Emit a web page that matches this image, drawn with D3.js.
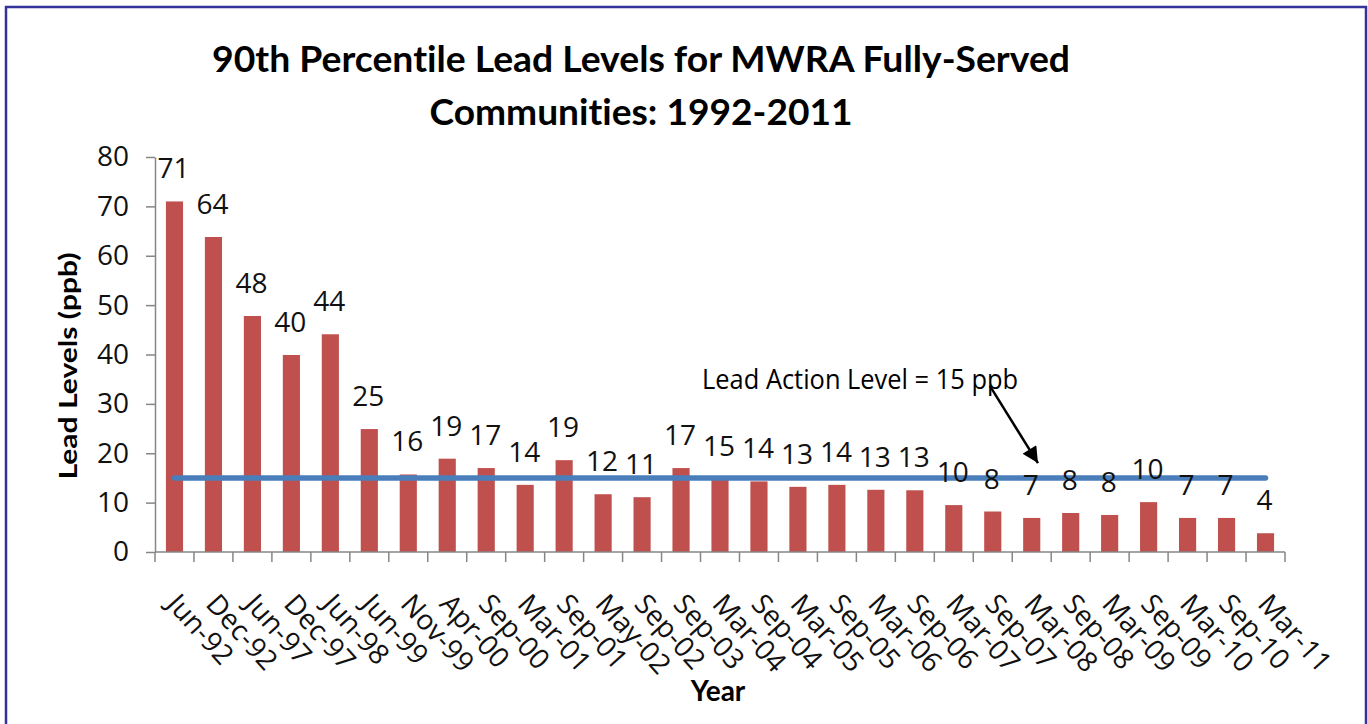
<!DOCTYPE html>
<html><head><meta charset="utf-8">
<script src="https://cdn.jsdelivr.net/npm/d3@7"></script>
<style>html,body{margin:0;padding:0;background:#fff} text{font-variant-ligatures:none;font-feature-settings:"liga" 0,"clig" 0}</style>
</head><body>
<svg id="chart" width="1368" height="724"></svg>
<script>
const categories = ["Jun-92","Dec-92","Jun-97","Dec-97","Jun-98","Jun-99","Nov-99","Apr-00","Sep-00","Mar-01","Sep-01","May-02","Sep-02","Sep-03","Mar-04","Sep-04","Mar-05","Sep-05","Mar-06","Sep-06","Mar-07","Sep-07","Mar-08","Sep-08","Mar-09","Sep-09","Mar-10","Sep-10","Mar-11"];
const leadValues = [71.0,63.8,47.8,39.9,44.1,24.9,15.7,18.9,17.0,13.6,18.6,11.7,11.1,17.0,14.8,14.3,13.2,13.6,12.6,12.5,9.5,8.2,6.9,7.9,7.5,10.1,6.9,6.9,3.8];
const valueLabels = ["71","64","48","40","44","25","16","19","17","14","19","12","11","17","15","14","13","14","13","13","10","8","7","8","8","10","7","7","4"];
const actionLevel = 15;
const yTicks = [0,10,20,30,40,50,60,70,80];
const titleLines = ["90th Percentile Lead Levels for MWRA Fully-Served","Communities: 1992-2011"];
const yAxisTitle = "Lead Levels (ppb)";
const xAxisTitle = "Year";
const annotationText = "Lead Action Level = 15 ppb";
const annotationPos = [14.04, 33.0];      // [category index units, ppb]
const arrowFrom = [21.43, 33.6];
const arrowTo = [22.66, 18.0];

const svg = d3.select("#chart");
svg.append("rect").attr("width",1368).attr("height",724).attr("fill","#fff");

const plotLeft = 155, plotRight = 1285, plotTop = 157, plotBottom = 552;
const x = d3.scaleBand().domain(categories).range([plotLeft,plotRight]).paddingInner(0.56).paddingOuter(0.28);
const xi = d3.scaleLinear().domain([0,categories.length]).range([plotLeft,plotRight]);
const y = d3.scaleLinear().domain([0,80]).range([plotBottom,plotTop]);
const axisColor = "#868686";
const textColor = "#111";
const numFont = "'Open Sans', sans-serif";
const boldFont = "Lato, 'Open Sans', sans-serif";

// border
svg.append("rect").attr("x",6).attr("y",7).attr("width",1360).attr("height",740)
  .attr("fill","none").attr("stroke","#333399").attr("stroke-width",2.5);

// title
svg.append("g").selectAll("text").data(titleLines).join("text")
  .attr("x",641).attr("y",(d,i)=>72+i*53)
  .attr("text-anchor","middle")
  .attr("font-family",boldFont).attr("font-weight","bold").attr("font-size",37)
  .attr("fill","#000")
  .attr("textLength",(d,i)=>i===0?858:423).attr("lengthAdjust","spacingAndGlyphs")
  .text(d=>d);

// y axis
const yAxis = svg.append("g").attr("transform",`translate(${plotLeft},0)`)
  .call(d3.axisLeft(y).tickValues(yTicks).tickSize(9).tickSizeOuter(0).tickPadding(17));
yAxis.select(".domain").attr("stroke",axisColor).attr("stroke-width",1.5);
yAxis.selectAll(".tick line").attr("stroke",axisColor).attr("stroke-width",1.5);
yAxis.selectAll(".tick text").attr("font-family",numFont).attr("font-size",28).attr("fill",textColor);

// bars
svg.append("g").selectAll("rect").data(leadValues).join("rect")
  .attr("x",(d,i)=>x(categories[i]))
  .attr("width",x.bandwidth())
  .attr("y",d=>y(d))
  .attr("height",d=>y(0)-y(d))
  .attr("fill","#C0504D");

// x axis
const xg = svg.append("g");
xg.append("line").attr("x1",plotLeft).attr("x2",plotRight).attr("y1",plotBottom).attr("y2",plotBottom)
  .attr("stroke",axisColor).attr("stroke-width",1.5);
xg.selectAll("line.tk").data(d3.range(categories.length+1)).join("line").attr("class","tk")
  .attr("x1",d=>xi(d)).attr("x2",d=>xi(d)).attr("y1",plotBottom).attr("y2",plotBottom+10)
  .attr("stroke",axisColor).attr("stroke-width",1.5);
xg.selectAll("text").data(categories).join("text")
  .attr("transform",d=>`translate(${x(d)+x.bandwidth()/2-9},605) rotate(48)`)
  .attr("text-anchor","start")
  .attr("font-family",numFont).attr("font-size",28).attr("fill",textColor)
  .text(d=>d);

// action level line
svg.append("line")
  .attr("x1",x(categories[0])+x.bandwidth()/2)
  .attr("x2",x(categories[categories.length-1])+x.bandwidth()/2)
  .attr("y1",y(actionLevel)).attr("y2",y(actionLevel))
  .attr("stroke","#4A7EBB").attr("stroke-width",5.5).attr("stroke-linecap","round");

// data labels
svg.append("g").selectAll("text").data(valueLabels).join("text")
  .attr("x",(d,i)=>x(categories[i])+x.bandwidth()/2-1)
  .attr("y",(d,i)=>y(leadValues[i])-23)
  .attr("text-anchor","middle")
  .attr("font-family",numFont).attr("font-size",28).attr("fill",textColor)
  .text(d=>d);

// axis titles
svg.append("text").attr("transform","translate(77,366) rotate(-90)")
  .attr("text-anchor","middle").attr("font-family",boldFont).attr("font-weight","bold")
  .attr("font-size",25).attr("fill","#000")
  .attr("textLength",227).attr("lengthAdjust","spacingAndGlyphs").text(yAxisTitle);
svg.append("text").attr("x",718).attr("y",701)
  .attr("text-anchor","middle").attr("font-family",boldFont).attr("font-weight","bold")
  .attr("font-size",28).attr("fill","#000").text(xAxisTitle);

// annotation
svg.append("text").attr("x",xi(annotationPos[0])).attr("y",y(annotationPos[1]))
  .attr("font-family",numFont).attr("font-size",27).attr("fill","#000")
  .attr("textLength",316).attr("lengthAdjust","spacingAndGlyphs").text(annotationText);
const defs = svg.append("defs");
defs.append("marker").attr("id","arrow").attr("markerUnits","userSpaceOnUse")
  .attr("viewBox","0 0 10 10").attr("refX",10).attr("refY",5)
  .attr("markerWidth",18).attr("markerHeight",16).attr("orient","auto")
  .append("path").attr("d","M0,0 L10,5 L0,10 z").attr("fill","#000");
svg.append("line")
  .attr("x1",xi(arrowFrom[0])).attr("y1",y(arrowFrom[1]))
  .attr("x2",xi(arrowTo[0])).attr("y2",y(arrowTo[1]))
  .attr("stroke","#000").attr("stroke-width",2.5).attr("marker-end","url(#arrow)");
</script>
</body></html>
